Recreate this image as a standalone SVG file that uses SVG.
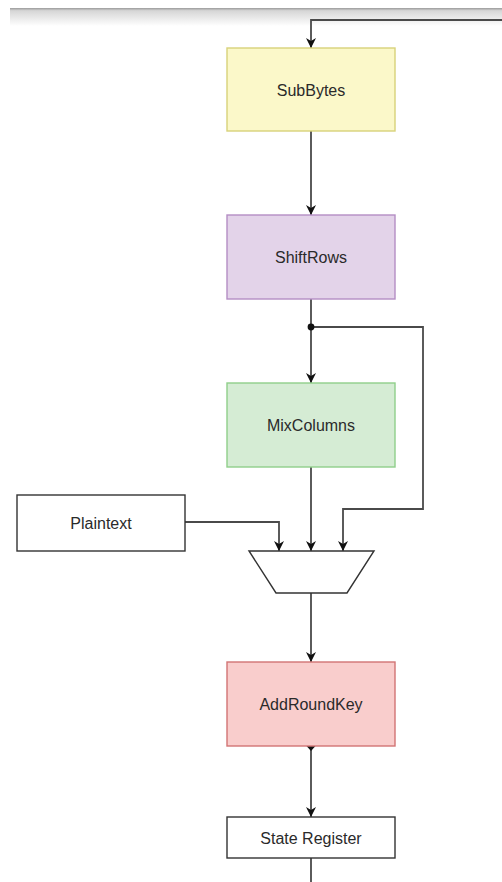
<svg xmlns="http://www.w3.org/2000/svg" width="502" height="882" viewBox="0 0 502 882">
<style>
.box{stroke-width:1.4}
.lbl{font-family:"Liberation Sans",Arial,sans-serif;font-size:16px;fill:#2a2a2a;text-anchor:middle;dominant-baseline:central}
.wire{fill:none;stroke:#4a4a4a;stroke-width:1.8}
</style>
<defs>
<linearGradient id="shade" x1="0" y1="0" x2="0" y2="1">
<stop offset="0" stop-color="#9a9a9a"/>
<stop offset="0.15" stop-color="#d6d6d6"/>
<stop offset="1" stop-color="#ffffff"/>
</linearGradient>
<marker id="arr" viewBox="0 0 10 10" refX="10" refY="5" markerWidth="10" markerHeight="10" markerUnits="userSpaceOnUse" orient="auto">
<path d="M0,0 L10,5 L0,10 L3,5 Z" fill="#111"/>
</marker>
</defs>
<rect width="502" height="882" fill="#ffffff"/>
<rect x="10" y="8" width="492" height="18" fill="url(#shade)"/>
<g id="connectors">
<path class="wire" d="M502,20 H311 V48" marker-end="url(#arr)"/>
<path class="wire" d="M311,131 V215" marker-end="url(#arr)"/>
<path class="wire" d="M311,299 V383" marker-end="url(#arr)"/>
<path class="wire" d="M311,327 H423 V509 H343 V551" marker-end="url(#arr)"/>
<circle cx="311" cy="327" r="3.4" fill="#111"/>
<path class="wire" d="M311,467 V551" marker-end="url(#arr)"/>
<path class="wire" d="M185,522 H279 V551" marker-end="url(#arr)"/>
<path class="wire" d="M311,593 V662" marker-end="url(#arr)"/>
<path class="wire" d="M311,746 V817" marker-end="url(#arr)"/>
<path d="M306.5,746 L315.5,746 L311,751 Z" fill="#111"/>
<path class="wire" d="M311,858 V882"/>
</g>
<g id="subbytes">
<rect class="box" x="227" y="48" width="168" height="83" fill="#fbf8c9" stroke="#d8d27a"/>
<text class="lbl" x="311" y="90">SubBytes</text>
</g>
<g id="shiftrows">
<rect class="box" x="227" y="215" width="168" height="84" fill="#e3d3e9" stroke="#b48ec4"/>
<text class="lbl" x="311" y="257">ShiftRows</text>
</g>
<g id="mixcolumns">
<rect class="box" x="227" y="383" width="168" height="84" fill="#d5ecd4" stroke="#8fcf8a"/>
<text class="lbl" x="311" y="425">MixColumns</text>
</g>
<g id="plaintext">
<rect class="box" x="17" y="495" width="168" height="56" fill="#ffffff" stroke="#333"/>
<text class="lbl" x="101" y="523">Plaintext</text>
</g>
<g id="mux">
<path class="box" d="M249,551 H374 L347,593 H276 Z" fill="#ffffff" stroke="#333"/>
</g>
<g id="addroundkey">
<rect class="box" x="227" y="662" width="168" height="84" fill="#f9cdcc" stroke="#d27474"/>
<text class="lbl" x="311" y="704">AddRoundKey</text>
</g>
<g id="stateregister">
<rect class="box" x="227" y="817" width="168" height="41" fill="#ffffff" stroke="#333"/>
<text class="lbl" x="311" y="838">State Register</text>
</g>
</svg>
